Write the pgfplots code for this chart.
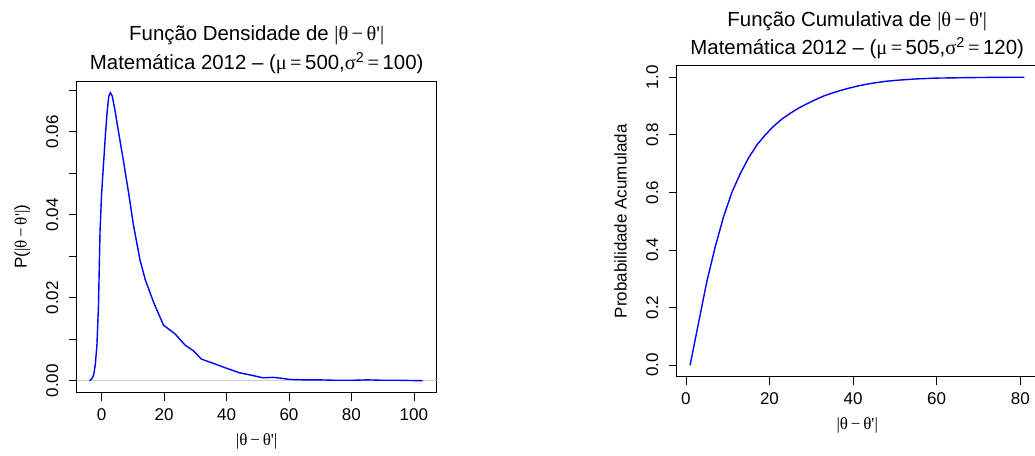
\documentclass[border=0pt]{standalone}
\usepackage{fontspec}
\setmainfont{Liberation Sans}
\newfontfamily\sym{Liberation Serif}
\usepackage{pgfplots}
\pgfplotsset{compat=1.18}

\newcommand{\lbl}{\fontsize{17}{20}\selectfont}
\newcommand{\ttl}{\fontsize{20.4}{24}\selectfont}
\newcommand{\dif}{{\sym |θ\,−\,θ\textquotesingle|}}

\pgfplotsset{rbase/.style={
    scale only axis, anchor=south west,
    axis line style={line width=0.8pt},
    tick pos=left, tick align=outside, major tick length=8pt,
    tick style={line width=0.8pt, black},
    tick label style={font=\lbl},
    scaled ticks=false,
    xticklabel style={anchor=base, yshift=-19.5pt},
    yticklabel style={xshift=-10.5pt, rotate=90, anchor=base},
    every axis x label/.style={at={(axis description cs:0.5,0)}, font=\lbl, anchor=base, yshift=-53pt},
    every axis y label/.style={at={(axis description cs:0,0.5)}, font=\lbl, xshift=-50pt, rotate=90, anchor=base},
  }}

\pgfplotstableread{
x y
-3.8 0
-3.0 0.0006
-2.5 0.0015
-2.0 0.004
-1.5 0.0085
-1.0 0.018
-0.5 0.036
0.0 0.045
0.6 0.052
1.2 0.059
1.8 0.065
2.3 0.0685
2.8 0.0694
3.4 0.0686
4.2 0.0655
5.2 0.061
6.2 0.0565
7.2 0.052
8.6 0.0455
10.2 0.0375
12.3 0.0291
14.0 0.0243
16.6 0.019
19.8 0.0134
21.9 0.0122
23.5 0.0113
26.7 0.0086
29.4 0.0072
32.0 0.0052
35.7 0.0042
40.0 0.003
44.2 0.0019
47.5 0.0014
51.7 0.0007
54.9 0.0008
57.5 0.0006
60.3 0.0003
65 0.0002
70 0.0002
75 0.0001
80 0.0001
85 0.0002
90 0.0001
95 0.0001
102.8 0.0
}\densdata

\pgfplotstableread{
x y
1 0
3 0.145
5 0.29
7 0.41
9 0.515
11 0.60
13 0.665
15 0.72
17 0.765
19 0.80
21 0.83
23 0.855
25 0.875
27 0.893
29 0.908
31 0.922
33 0.935
35 0.945
37 0.954
39 0.962
41 0.969
43 0.975
45 0.98
48 0.986
51 0.99
55 0.994
60 0.997
65 0.998
70 0.999
75 0.9995
81 1.0
}\cumdata

\begin{document}
\begin{tikzpicture}
% densidade
\begin{axis}[rbase,
    at={(76.7pt,62.3pt)}, width=360pt, height=311.7pt,
    xmin=-7.97, xmax=107.3, ymin=-0.00289, ymax=0.07222,
    xtick={0,20,40,60,80,100}, xticklabels={0,20,40,60,80,100},
    ytick={0,0.01,0.02,0.03,0.04,0.05,0.06,0.07},
    yticklabels={0.00,,0.02,,0.04,,0.06,},
    xlabel={\dif}, ylabel={P(\dif)},
  ]
  \draw[gray!40, line width=0.8pt] (axis cs:-7.97,0) -- (axis cs:107.3,0);
  \addplot[blue, line width=1.4pt] table {\densdata};
\end{axis}
\node[anchor=base, font=\ttl] at (256.7pt,414pt) {Função Densidade de \dif};
\node[anchor=base, font=\ttl] at (256.7pt,385pt) {Matemática 2012 – ({\sym μ\,=\,}500,{\sym σ}\textsuperscript{2}{\sym\,=\,}100)};

% cumulativa
\begin{axis}[rbase,
    at={(676.7pt,78.3pt)}, width=361.1pt, height=311pt,
    xmin=-2.2, xmax=84.2, ymin=-0.04, ymax=1.04,
    xtick={0,20,40,60,80}, xticklabels={0,20,40,60,80},
    ytick={0,0.2,0.4,0.6,0.8,1}, yticklabels={0.0,0.2,0.4,0.6,0.8,1.0},
    xlabel={\dif}, ylabel={Probabilidade Acumulada},
  ]
  \addplot[blue, line width=1.4pt] table {\cumdata};
\end{axis}
\node[anchor=base, font=\ttl] at (857.2pt,428.3pt) {Função Cumulativa de \dif};
\node[anchor=base, font=\ttl] at (857.2pt,400pt) {Matemática 2012 – ({\sym μ\,=\,}505,{\sym σ}\textsuperscript{2}{\sym\,=\,}120)};

\pgfresetboundingbox
\useasboundingbox (0,0) rectangle (1035pt,455pt);
\end{tikzpicture}
\end{document}
